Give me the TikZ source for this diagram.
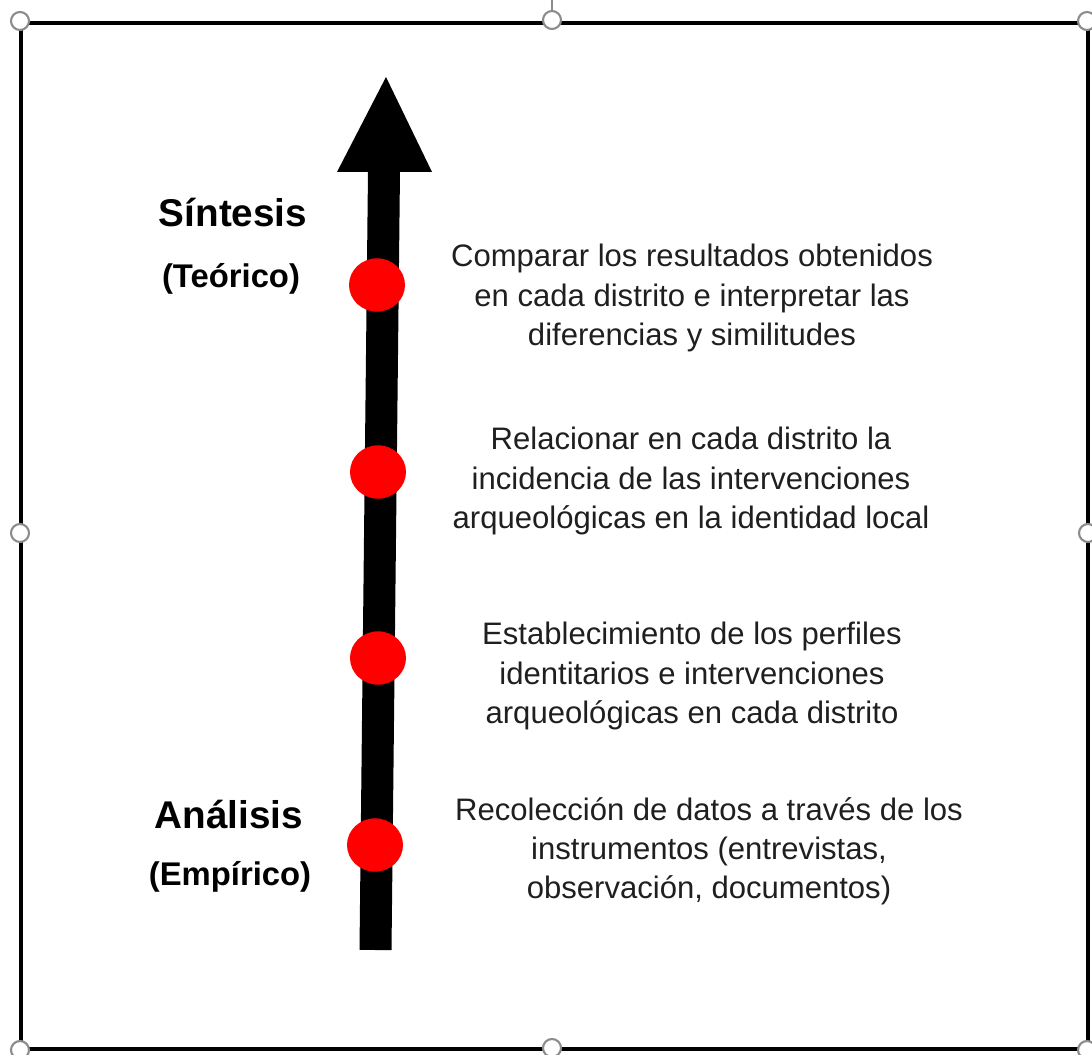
\documentclass[tikz,border=0pt]{standalone}
\usepackage{fontspec}
\setmainfont{Liberation Sans}
\usetikzlibrary{shapes.geometric}
\begin{document}
\begin{tikzpicture}[x=0.75pt,y=-0.75pt,
  handle/.style={circle,draw=black!45,fill=white,line width=1.6pt,minimum size=13.5pt,inner sep=0pt},
  dot/.style={ellipse,fill=red,minimum width=42pt,minimum height=40pt,inner sep=0pt},
  phase/.style={font=\fontsize{29}{34}\selectfont\bfseries,anchor=base,inner sep=0pt},
  kind/.style={font=\fontsize{24.6}{29}\selectfont\bfseries,anchor=base,inner sep=0pt},
  stage/.style={font=\fontsize{23.3}{29.3}\selectfont,align=center,inner sep=0pt,text=black!88}]
\useasboundingbox (0,0) rectangle (1092,1055);
% frame
\coordinate (tl) at (21,23);
\coordinate (br) at (1088,1049);
\draw[line width=2.3pt] (tl) rectangle (br);
% selection handles
\coordinate (rot) at (552,0);
\node[handle] (h1) at (20,21) {};
\node[handle] (h2) at (552,20) {};
\draw[black!45,line width=1pt] (rot) -- (h2.north);
\node[handle] (h3) at (1087,21) {};
\node[handle] (h4) at (20,533) {};
\node[handle] (h5) at (1088,533) {};
\node[handle] (h6) at (20,1050) {};
\node[handle] (h7) at (552,1048) {};
\node[handle] (h8) at (1087,1050) {};
% arrow
\coordinate (tail) at (375.5,950);
\coordinate (neck) at (384,171);
\coordinate (tip) at (386,77);
\coordinate (hl) at (337,172);
\coordinate (hr) at (432,172);
\draw[line width=24pt] (tail) -- (neck);
\fill (hl) -- (tip) -- (hr) -- cycle;
% dots
\node[dot] (d1) at (377,285) {};
\node[dot] (d2) at (378,472) {};
\node[dot] (d3) at (378,658) {};
\node[dot] (d4) at (375,845) {};
% left labels
\node[phase] (sin) at (233,227) {Síntesis};
\node[kind] (teo) at (231,288) {(Teórico)};
\node[phase] (ana) at (229,828) {Análisis};
\node[kind] (emp) at (230,885) {(Empírico)};
% stage texts
\node[stage] (s1) at (692,298) {Comparar los resultados obtenidos\\en cada distrito e interpretar las\\diferencias y similitudes};
\node[stage] (s2) at (691,481) {Relacionar en cada distrito la\\incidencia de las intervenciones\\arqueológicas en la identidad local};
\node[stage] (s3) at (692,676) {Establecimiento de los perfiles\\identitarios e intervenciones\\arqueológicas en cada distrito};
\node[stage] (s4) at (709,851) {Recolección de datos a través de los\\instrumentos (entrevistas,\\observación, documentos)};
\end{tikzpicture}
\end{document}
